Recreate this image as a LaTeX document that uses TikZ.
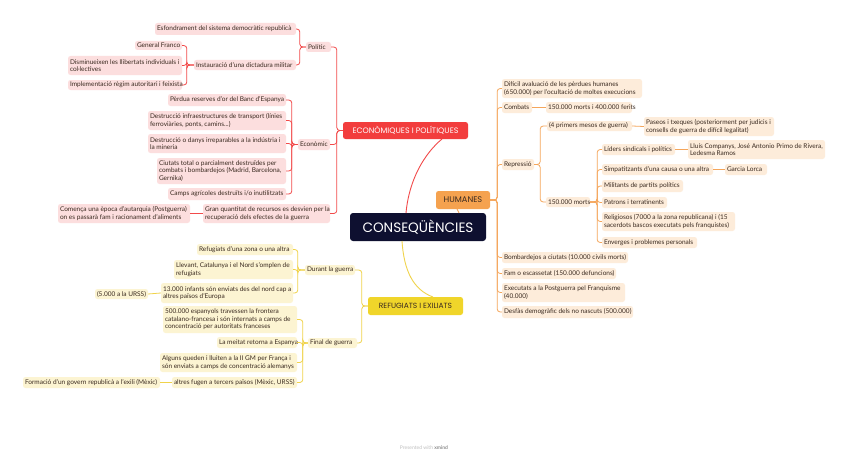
\documentclass[tikz,border=0pt]{standalone}
\usepackage{fontspec}
\setmainfont{Lato}
\newfontfamily\headfont{Poppins}
\definecolor{navy}{HTML}{0E1030}
\definecolor{redh}{HTML}{F23D3D}
\definecolor{redl}{HTML}{F24A4A}
\definecolor{pinkf}{HTML}{FCDEDE}
\definecolor{orh}{HTML}{F5A24F}
\definecolor{orl}{HTML}{F5A65B}
\definecolor{peachf}{HTML}{FDECDA}
\definecolor{ylh}{HTML}{F0D52A}
\definecolor{yll}{HTML}{F0D34A}
\definecolor{ylf}{HTML}{FCF4D2}
\definecolor{txt}{HTML}{3A2A20}
% header box: centred text
\newcommand\hx[7]{%
  \pgfmathsetmacro\bxw{#5-#3}\pgfmathsetmacro\bxh{#6-#4}%
  \node[#1,minimum width=\bxw pt,minimum height=\bxh pt] (#2) at ({(#3+#5)/2},{(#4+#6)/2}) {#7};}
% leaf box: box node plus left-aligned text node
\newcommand\bx[7]{%
  \pgfmathsetmacro\bxw{#5-#3}\pgfmathsetmacro\bxh{#6-#4}%
  \node[#1,minimum width=\bxw pt,minimum height=\bxh pt] (#2) at ({(#3+#5)/2},{(#4+#6)/2}) {};
  \node[txtn,anchor=west] (#2t) at ([xshift=2pt]#2.west) {#7};}
\newcommand\lcon[4]{\draw[#1] (#2.west) -- ++(-#4,0) |- (#3.east);}
\newcommand\rcon[4]{\draw[#1] (#2.east) -- ++(#4,0) |- (#3.west);}
\begin{document}
\begin{tikzpicture}[x=1pt,y=-1pt,
  leaf/.style={rounded corners=2.5pt,inner sep=0pt},
  txtn/.style={inner sep=0pt,align=left,text=txt,font=\fontsize{6.5}{7.5}\selectfont},
  pk/.style={leaf,fill=pinkf},
  pe/.style={leaf,fill=peachf},
  yf/.style={leaf,fill=ylf},
  head/.style={rounded corners=2.5pt,inner sep=0pt},
  rc/.style={draw=redl,line width=0.8pt,rounded corners=3pt},
  oc/.style={draw=orl,line width=0.8pt,rounded corners=3pt},
  yc/.style={draw=yll,line width=0.8pt,rounded corners=3pt}]
\useasboundingbox (0,0) rectangle (848,460);
\fill[white] (0,0) rectangle (848,460);
% central and main branches
\hx{head,fill=navy,text=white,font=\headfont\fontsize{13.6}{15}\selectfont,rounded corners=3pt}{cen}{350}{213}{486}{241}{CONSEQÜÈNCIES}
\hx{head,fill=redh,text=white,font=\headfont\fontsize{7.9}{9}\selectfont}{econ}{343}{122}{468}{139}{ECONÒMIQUES I POLÍTIQUES}
\hx{head,fill=orh,text=txt,font=\headfont\fontsize{8.2}{9}\selectfont}{hum}{436}{191}{490}{209}{HUMANES}
\hx{head,fill=ylh,text=txt,font=\headfont\fontsize{7.5}{9}\selectfont}{ref}{368}{297}{463}{315}{REFUGIATS I EXILIATS}
\coordinate (cr) at (406,213);
\coordinate (er) at (442,139);
\draw[redl,line width=0.9pt] (cr) .. controls (409,180) and (424,154) .. (er);
\coordinate (ho) at (457,209);
\coordinate (co) at (459,213);
\draw[orl,line width=0.9pt] (ho) -- (co);
\coordinate (cy) at (402,241);
\coordinate (ry) at (433,297);
\draw[yll,line width=0.9pt] (cy) .. controls (404,272) and (414,290) .. (ry);
% red side
\bx{pk}{pol}{306}{42}{331}{52}{Polític}
\bx{pk}{esf}{155}{23}{296}{35}{Esfondrament del sistema democràtic republicà}
\bx{pk}{ins}{194}{60}{296}{70}{Instauració d'una dictadura militar}
\bx{pk}{gf}{135}{41}{182}{50}{General Franco}
\bx{pk}{dis}{68}{56}{182}{75}{Disminueixen les llibertats individuals i\\col·lectives}
\bx{pk}{imp}{68}{80}{182}{90}{Implementació règim autoritari i feixista}
\bx{pk}{eco}{298}{139}{330}{150}{Econòmic}
\bx{pk}{per}{168}{94}{286}{106}{Pèrdua reserves d'or del Banc d'Espanya}
\bx{pk}{dinf}{148}{111}{286}{130}{Destrucció infraestructures de transport (línies\\ferroviàries, ponts, camins...)}
\bx{pk}{ddan}{148}{134}{286}{153}{Destrucció o danys irreparables a la indústria i\\la mineria}
\bx{pk}{ciu}{157}{158}{286}{184}{Ciutats total o parcialment destruïdes per\\combats i bombardejos (Madrid, Barcelona,\\Gernika)}
\bx{pk}{cam}{168}{188}{286}{200}{Camps agrícoles destruïts i/o inutilitzats}
\bx{pk}{gran}{203}{204}{330}{223}{Gran quantitat de recursos es desvien per la\\recuperació dels efectes de la guerra}
\bx{pk}{com}{58}{204}{190}{223}{Comença una època d'autarquia (Postguerra)\\on es passarà fam i racionament d'aliments}
\lcon{rc}{econ}{pol}{6}
\lcon{rc}{econ}{eco}{6}
\lcon{rc}{econ}{gran}{6}
\lcon{rc}{pol}{esf}{6}
\lcon{rc}{pol}{ins}{6}
\lcon{rc}{ins}{gf}{7}
\lcon{rc}{ins}{dis}{7}
\lcon{rc}{ins}{imp}{7}
\lcon{rc}{eco}{per}{6}
\lcon{rc}{eco}{dinf}{6}
\lcon{rc}{eco}{ddan}{6}
\lcon{rc}{eco}{ciu}{6}
\lcon{rc}{eco}{cam}{6}
\draw[rc] (gran.west) -- (com.east);
% yellow side
\bx{yf}{dur}{305}{265}{355}{275}{Durant la guerra}
\bx{yf}{rz}{197}{244}{293}{255}{Refugiats d'una zona o una altra}
\bx{yf}{llev}{174}{260}{293}{279}{Llevant, Catalunya i el Nord s'omplen de\\refugiats}
\bx{yf}{inf}{161}{283}{293}{303}{13.000 infants són enviats des del nord cap a\\altres països d'Europa}
\bx{yf}{urss}{95}{289}{148}{299}{(5.000 a la URSS)}
\bx{yf}{fin}{308}{338}{357}{348}{Final de guerra}
\bx{yf}{esp}{163}{306}{297}{333}{500.000 espanyols travessen la frontera\\catalano-francesa i són internats a camps de\\concentració per autoritats franceses}
\bx{yf}{mei}{217}{337}{297}{348}{La meitat retorna a Espanya}
\bx{yf}{alg}{160}{353}{297}{372}{Alguns queden i lluiten a la II GM per França i\\són enviats a camps de concentració alemanys}
\bx{yf}{alt}{172}{377}{297}{388}{altres fugen a tercers països (Mèxic, URSS)}
\bx{yf}{form}{23}{377}{160}{388}{Formació d'un govern republicà a l'exili (Mèxic)}
\lcon{yc}{ref}{dur}{6}
\lcon{yc}{ref}{fin}{6}
\lcon{yc}{dur}{rz}{7}
\lcon{yc}{dur}{llev}{7}
\lcon{yc}{dur}{inf}{7}
\draw[yc] (inf.west) -- (urss.east);
\lcon{yc}{fin}{esp}{5}
\lcon{yc}{fin}{mei}{5}
\lcon{yc}{fin}{alg}{5}
\lcon{yc}{fin}{alt}{5}
\draw[yc] (alt.west) -- (form.east);
% orange side
\bx{pe}{dif}{502}{79}{642}{98}{Difícil avaluació de les pèrdues humanes\\(650.000) per l'ocultació de moltes execucions}
\bx{pe}{comb}{502}{102}{532}{113}{Combats}
\bx{pe}{cm}{546}{102}{632}{113}{150.000 morts i 400.000 ferits}
\bx{pe}{rep}{502}{159}{534}{170}{Repressió}
\bx{pe}{prim}{547}{121}{632}{131}{(4 primers mesos de guerra)}
\bx{pe}{pas}{644}{117}{774}{136}{Paseos i txeques (posteriorment per judicis i\\consells de guerra de difícil legalitat)}
\bx{pe}{mil150}{546}{197}{590}{207}{150.000 morts}
\bx{pe}{lid}{602}{144}{675}{155}{Líders sindicals i polítics}
\bx{pe}{llu}{688}{140}{825}{159}{Lluís Companys, José Antonio Primo de Rivera,\\Ledesma Ramos}
\bx{pe}{sim}{602}{164}{713}{175}{Simpatitzants d'una causa o una altra}
\bx{pe}{gar}{725}{164}{767}{175}{Garcia Lorca}
\bx{pe}{mil}{602}{180}{683}{192}{Militants de partits polítics}
\bx{pe}{pat}{602}{197}{667}{208}{Patrons i terratinents}
\bx{pe}{rel}{602}{212}{735}{231}{Religiosos (7000 a la zona republicana) i (15\\sacerdots bascos executats pels franquistes)}
\bx{pe}{env}{602}{237}{697}{248}{Enverges i problemes personals}
\bx{pe}{bom}{502}{252}{628}{263}{Bombardejos a ciutats (10.000 civils morts)}
\bx{pe}{fam}{502}{268}{616}{279}{Fam o escassetat (150.000 defuncions)}
\bx{pe}{exe}{502}{283}{625}{302}{Executats a la Postguerra pel Franquisme\\(40.000)}
\bx{pe}{des}{502}{306}{633}{318}{Desfàs demogràfic dels no nascuts (500.000)}
\rcon{oc}{hum}{dif}{7}
\rcon{oc}{hum}{comb}{7}
\rcon{oc}{hum}{rep}{7}
\rcon{oc}{hum}{bom}{7}
\rcon{oc}{hum}{fam}{7}
\rcon{oc}{hum}{exe}{7}
\rcon{oc}{hum}{des}{7}
\draw[oc] (comb.east) -- (cm.west);
\rcon{oc}{rep}{prim}{6}
\rcon{oc}{rep}{mil150}{6}
\draw[oc] (prim.east) -- (pas.west);
\rcon{oc}{mil150}{lid}{7}
\rcon{oc}{mil150}{sim}{7}
\rcon{oc}{mil150}{mil}{7}
\rcon{oc}{mil150}{pat}{7}
\rcon{oc}{mil150}{rel}{7}
\rcon{oc}{mil150}{env}{7}
\draw[oc] (lid.east) -- (llu.west);
\draw[oc] (sim.east) -- (gar.west);
% footer
\node[text=black!25,font=\fontsize{5}{6}\selectfont] (foot) at (424,448) {Presented with \textbf{\textcolor{black!45}{xmind}}};
\end{tikzpicture}
\end{document}
